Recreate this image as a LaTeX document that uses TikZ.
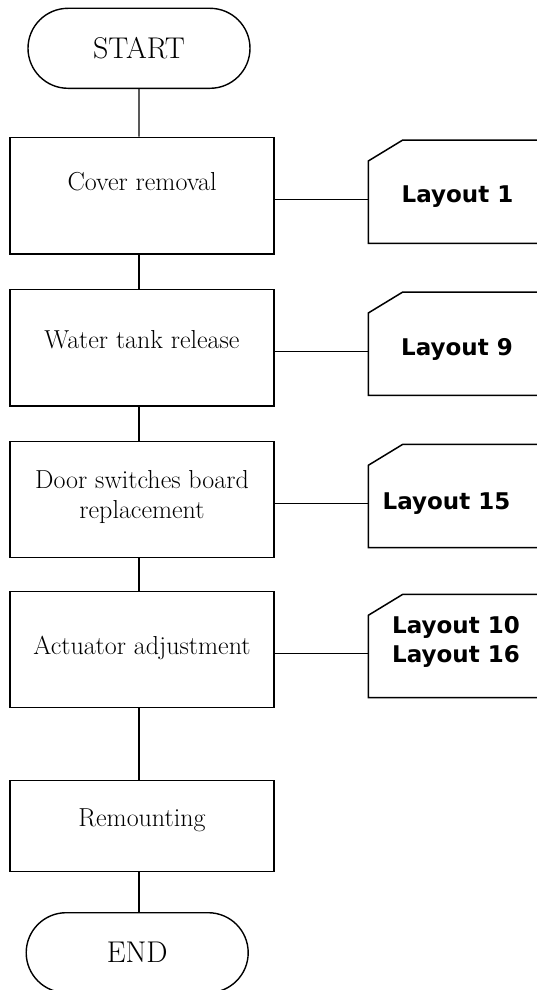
\documentclass[tikz,border=0pt]{standalone}
\usepackage{fontspec}
\newfontfamily\layoutfont{DejaVu Sans}
\usetikzlibrary{shapes.misc}

\begin{document}
\begin{tikzpicture}[
    x=1pt, y=-1pt,
    term/.style={draw, rounded rectangle, line width=1.4pt, minimum width=222pt, minimum height=80pt, inner sep=0pt, font=\fontsize{30}{34}\selectfont},
    stepbox/.style={draw, rectangle, line width=1.5pt, minimum width=264pt, inner sep=0pt},
    steptxt/.style={align=center, inner sep=0pt, font=\fontsize{26}{30}\selectfont},
    card/.style={rectangle, minimum width=192pt, minimum height=103pt, inner sep=0pt},
    cardline/.style={line width=1.5pt, line join=miter},
    cardtxt/.style={align=center, inner sep=0pt, font=\layoutfont\bfseries\fontsize{23}{28.4}\selectfont},
    link/.style={line width=1.3pt}
]
\useasboundingbox (0,0) rectangle (537,990);

\node[term] (start) at (139,48.3) {START};

\node[stepbox, minimum height=116.7pt] (s1) at (142,195.7) {};
\node[stepbox, minimum height=116.7pt] (s2) at (142,347.7) {};
\node[stepbox, minimum height=116pt] (s3) at (142,499.7) {};
\node[stepbox, minimum height=116pt] (s4) at (142,649.7) {};
\node[stepbox, minimum height=91pt] (s5) at (142,826.2) {};

\node[term] (end) at (137.2,952.7) {END};

\node[steptxt, anchor=base] (t1) at (142,190.7) {Cover removal};
\node[steptxt, anchor=base] (t2) at (142,348) {Water tank release};
\node[steptxt] (t3) at (142,496.8) {Door switches board\\replacement};
\node[steptxt, anchor=base] (t4) at (142,654.3) {Actuator adjustment};
\node[steptxt, anchor=base] (t5) at (142,826.7) {Remounting};

% layout cards (right side runs off the page)
\node[card] (c1) at (464.5,191.7) {};
\node[card] (c2) at (464.5,343.7) {};
\node[card] (c3) at (464.5,496) {};
\node[card] (c4) at (464.5,646) {};
\foreach \i in {1,...,4} {\draw[cardline] (c\i.south east) -- (c\i.south west) -- ([yshift=-21pt]c\i.north west) -- ([xshift=34.5pt]c\i.north west) -- (c\i.north east);}

\node[cardtxt, anchor=base] (l1) at (457.5,202.7) {Layout 1};
\node[cardtxt, anchor=base] (l2) at (457,355.5) {Layout 9};
\node[cardtxt, anchor=base] (l3) at (446.5,509) {Layout 15};
\node[cardtxt] (l4) at (456,641.8) {Layout 10\\Layout 16};

\draw[link] (start) -- (start |- s1.north);
\foreach \a/\b in {1/2,2/3,3/4,4/5} {\draw[link] (s\a.south -| start) -- (s\b.north -| start);}
\draw[link] (s5.south -| start) -- (end.north -| start);

\foreach \i in {1,...,4} {\draw[link] ([yshift=-4pt]s\i.east) -- ([yshift=-4pt]s\i.east -| c\i.west);}
\end{tikzpicture}
\end{document}
